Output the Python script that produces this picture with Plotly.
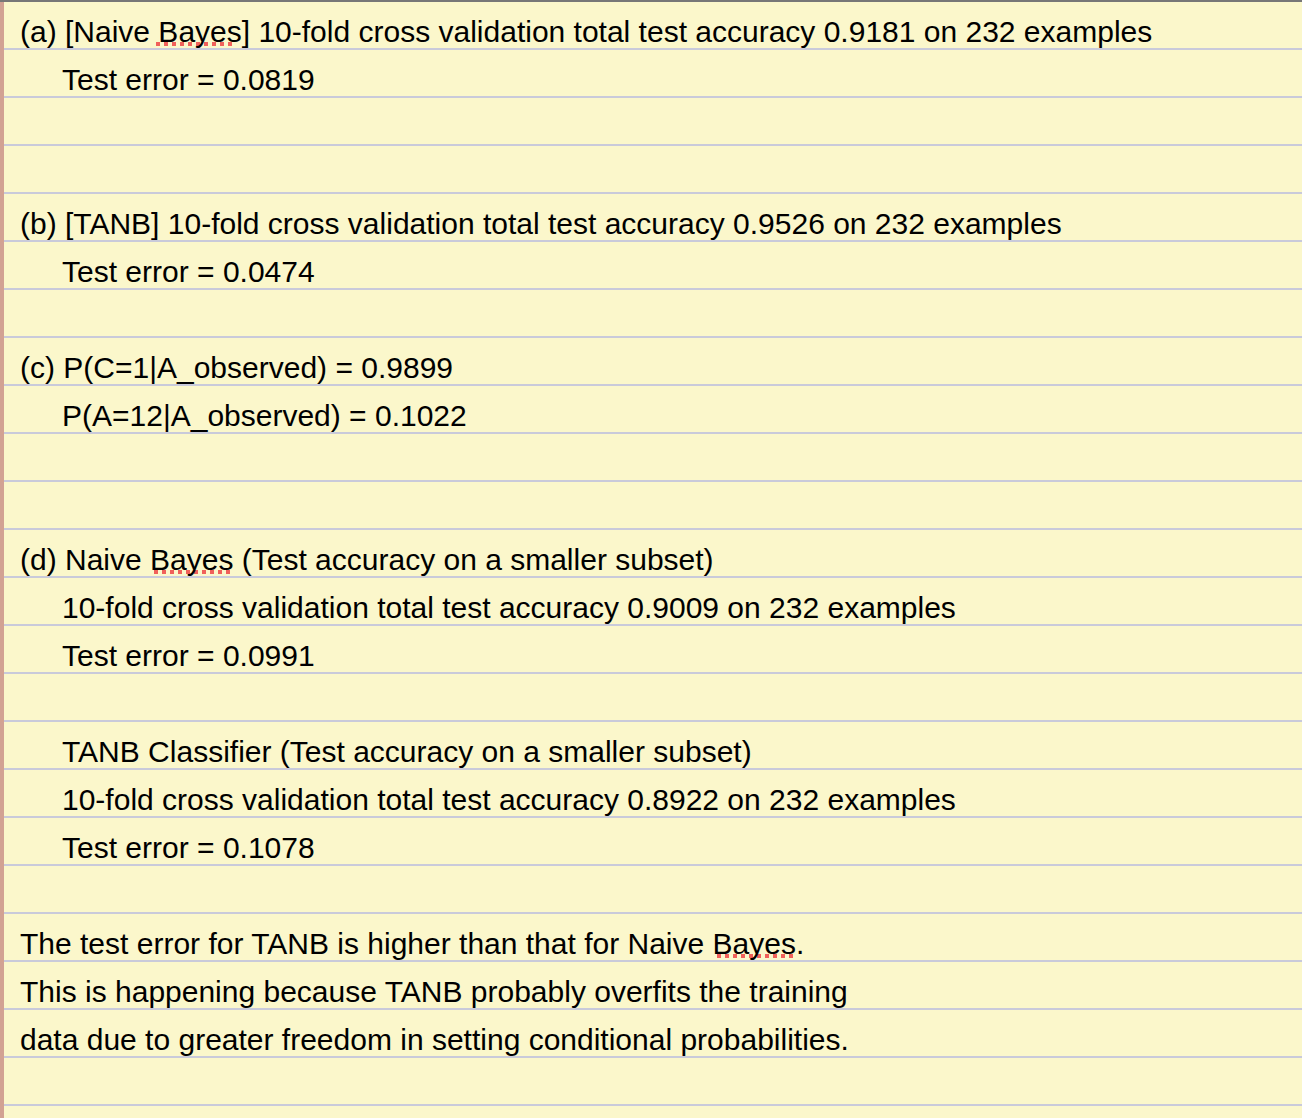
"""Notebook-style page of classifier results."""

import plotly.graph_objects as go

# text lines of the page, the ruled row each one sits on, and its indent level
lines = [
    "(a) [Naive Bayes] 10-fold cross validation total test accuracy 0.9181 on 232 examples",
    "Test error = 0.0819",
    "(b) [TANB] 10-fold cross validation total test accuracy 0.9526 on 232 examples",
    "Test error = 0.0474",
    "(c) P(C=1|A_observed) = 0.9899",
    "P(A=12|A_observed) = 0.1022",
    "(d) Naive Bayes (Test accuracy on a smaller subset)",
    "10-fold cross validation total test accuracy 0.9009 on 232 examples",
    "Test error = 0.0991",
    "TANB Classifier (Test accuracy on a smaller subset)",
    "10-fold cross validation total test accuracy 0.8922 on 232 examples",
    "Test error = 0.1078",
    "The test error for TANB is higher than that for Naive Bayes.",
    "This is happening because TANB probably overfits the training",
    "data due to greater freedom in setting conditional probabilities.",
]
rows = [0, 1, 4, 5, 7, 8, 11, 12, 13, 15, 16, 17, 19, 20, 21]
indents = [0, 1, 0, 1, 0, 1, 0, 1, 1, 1, 1, 1, 0, 0, 0]

# words flagged by the spell checker: (row, x start, x end)
flagged = [(0, 156, 234), (11, 154, 232), (19, 717, 797)]

W, H = 1302, 1118
ROW = 48
n_rules = 23
PAPER = "#FBF7CB"
RULE = "#C9CADA"

rule_y = [1 + ROW * (k + 1) for k in range(n_rules)]

fig = go.Figure()

for text, row, ind in zip(lines, rows, indents):
    fig.add_annotation(
        x=18 + 42 * ind,
        y=31 + ROW * row,
        text=text,
        showarrow=False,
        xanchor="left",
        yanchor="middle",
        font=dict(family="Liberation Sans, Arial, sans-serif", size=30, color="#000000"),
    )

# red dotted spell-check underlines
for row, x0, x1 in flagged:
    fig.add_shape(
        type="line",
        x0=x0, x1=x1, y0=ROW * (row + 1) - 4, y1=ROW * (row + 1) - 4,
        line=dict(color="#F0605A", width=4, dash="4px,4px"),
    )

# page edges
fig.add_shape(type="rect", xref="paper", yref="paper", x0=0, x1=1, y0=1, y1=1 - 2 / H,
              fillcolor="#777777", line_width=0)
fig.add_shape(type="rect", xref="paper", yref="paper", x0=0, x1=4 / W, y0=0, y1=1 - 2 / H,
              fillcolor="#D2A293", line_width=0)

fig.update_xaxes(range=[0, W], visible=False, fixedrange=True)
fig.update_yaxes(
    range=[H, 0],
    tickvals=rule_y,
    showticklabels=False,
    showgrid=True,
    gridcolor=RULE,
    gridwidth=2,
    zeroline=False,
    showline=False,
    ticks="",
    fixedrange=True,
)
fig.update_layout(
    width=W,
    height=H,
    margin=dict(l=0, r=0, t=0, b=0),
    paper_bgcolor=PAPER,
    plot_bgcolor=PAPER,
    showlegend=False,
)

fig.write_html(
    "out.html",
    config={"displayModeBar": False},
    post_script="document.body.style.margin='0';document.body.style.overflow='hidden';",
)
